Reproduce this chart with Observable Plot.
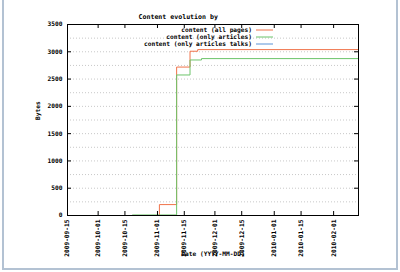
<!DOCTYPE html>
<html><head><meta charset="utf-8">
<script src="https://cdn.jsdelivr.net/npm/d3@7"></script>
<script src="https://cdn.jsdelivr.net/npm/@observablehq/plot@0.6"></script>
<style>
body{margin:0;background:#fff}
#wrap{position:relative;width:400px;height:272px;overflow:hidden;background:#fff}
#border{position:absolute;left:2px;top:-4px;width:392px;height:270px;border:2px solid #b3c2d3;pointer-events:none}
#legend{position:absolute;left:0;top:0;pointer-events:none}
</style></head>
<body><div id="wrap"><div id="chart"></div><svg id="legend" width="400" height="60"></svg><div id="border"></div></div>
<script>
const seriesNames = ["content (all pages)", "content (only articles)", "content (only articles talks)"];
const seriesColors = ["#f0734a", "#6cc46a", "#5b93d6"];
const allDates  = ["2009-10-19","2009-11-02","2009-11-11","2009-11-18","2009-11-22","2010-02-14"];
const allValues = [0, 200, 2720, 3010, 3040, 3040];
const artDates  = ["2009-10-19","2009-11-11","2009-11-18","2009-11-24","2010-02-14"];
const artValues = [10, 2575, 2850, 2875, 2875];
const xTickLabels = ["2009-09-15","2009-10-01","2009-10-15","2009-11-01","2009-11-15","2009-12-01","2009-12-15","2010-01-01","2010-01-15","2010-02-01"];
const yTickValues = [0,500,1000,1500,2000,2500,3000,3500];
const gridValues = [250,500,750,1000,1250,1500,1750,2000,2250,2500,2750,3000,3250];

const parse = d3.utcParse("%Y-%m-%d");
const rows = [];
allDates.forEach((d,i)=>rows.push({series:seriesNames[0], date:parse(d), value:allValues[i]}));
artDates.forEach((d,i)=>rows.push({series:seriesNames[1], date:parse(d), value:artValues[i]}));
const xTicks = xTickLabels.map(parse);

const W = 400, H = 272, ML = 67, MR = 42, MT = 24, MB = 57;
const fw = W - ML - MR, fh = H - MT - MB, TS = 4;

const chart = Plot.plot({
  width: W, height: H,
  marginLeft: ML, marginRight: MR, marginTop: MT, marginBottom: MB,
  style: {fontFamily: "DejaVu Sans Mono", fontSize: "6.2px", fontWeight: "bold", background: "transparent"},
  x: {type: "utc", domain: [parse("2009-09-15"), parse("2010-02-14")]},
  y: {domain: [0, 3500]},
  color: {domain: seriesNames, range: seriesColors},
  marks: [
    Plot.ruleY(gridValues, {stroke: "#c8c8c8", strokeDasharray: "1,2"}),
    Plot.line(rows, {x: "date", y: "value", z: "series", stroke: "series", curve: "step-after", strokeWidth: 1}),
    Plot.frame({stroke: "#000"}),
    Plot.tickX(xTicks, {x: d => d, insetTop: fh - TS, stroke: "#000"}),
    Plot.tickX(xTicks, {x: d => d, insetBottom: fh - TS, stroke: "#000"}),
    Plot.tickY(yTickValues, {y: d => d, insetRight: fw - TS, stroke: "#000"}),
    Plot.tickY(yTickValues, {y: d => d, insetLeft: fw - TS, stroke: "#000"}),
    Plot.axisX({ticks: xTicks, tickFormat: d3.utcFormat("%Y-%m-%d"), tickRotate: -90, tickSize: 0, tickPadding: 4, label: null}),
    Plot.axisY({ticks: yTickValues, tickFormat: d => String(d), tickSize: 0, tickPadding: 5, label: null}),
    Plot.text(["Content evolution by"], {frameAnchor: "top-left", dx: 71, dy: -10, textAnchor: "start", fontSize: 6.6}),
    Plot.text(["Bytes"], {frameAnchor: "left", dx: -29, rotate: -90}),
    Plot.text(["Date (YYYY-MM-DD)"], {frameAnchor: "bottom", dy: 40})
  ]
});
document.getElementById("chart").appendChild(chart);

const lg = d3.select("#legend");
seriesNames.forEach((name, i) => {
  const y = 30 + i * 7;
  lg.append("text").attr("x", 252).attr("y", y).attr("dy", "0.32em")
    .attr("text-anchor", "end")
    .style("font", "bold 6.2px 'DejaVu Sans Mono'")
    .text(name);
  lg.append("line").attr("x1", 256).attr("x2", 273).attr("y1", y).attr("y2", y)
    .attr("stroke", seriesColors[i]).attr("stroke-width", 1);
});
</script></body></html>
